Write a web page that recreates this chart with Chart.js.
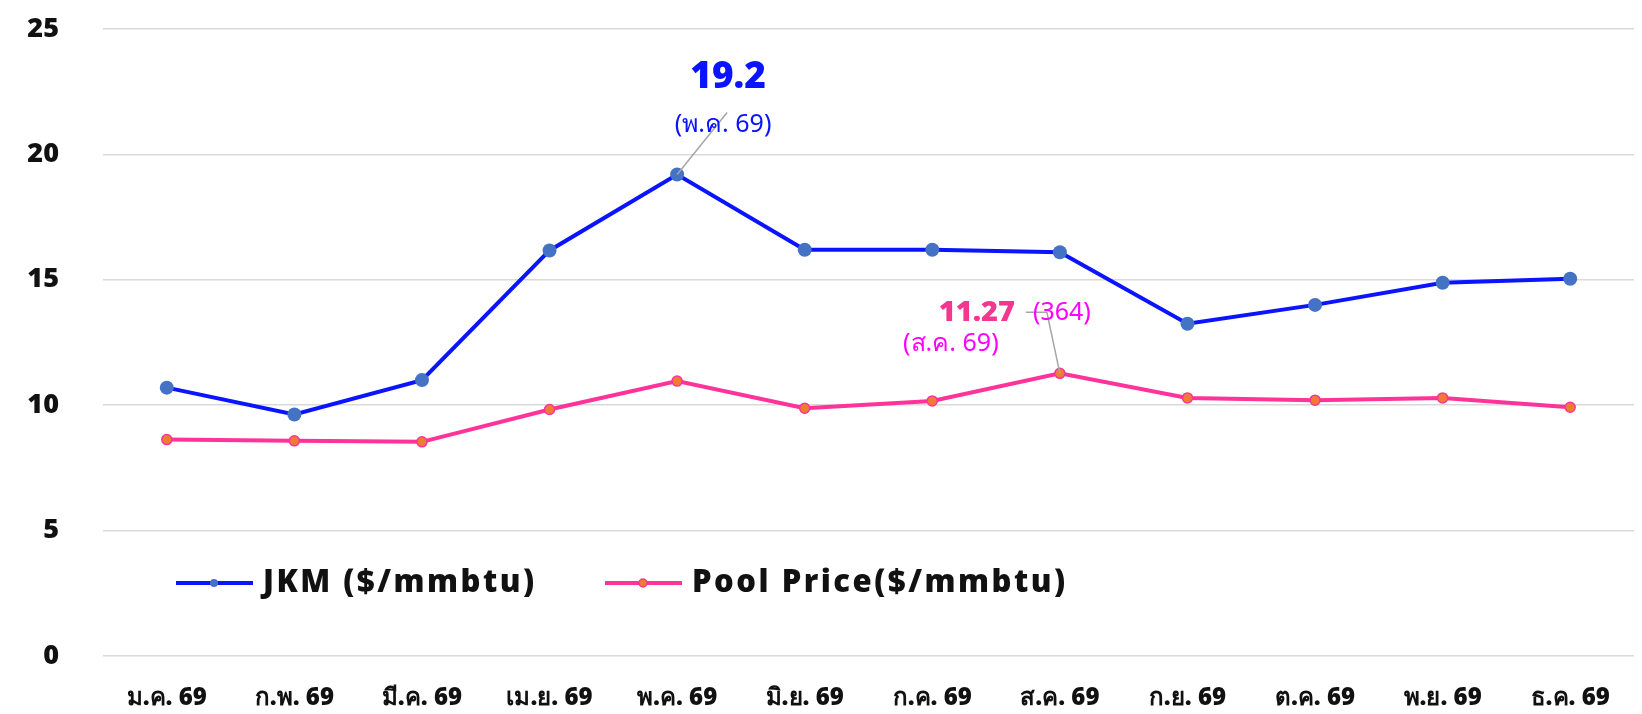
<!DOCTYPE html>
<html lang="th">
<head>
    <meta charset="UTF-8">
    <title>JKM vs Pool Price</title>
    <script src="https://cdn.jsdelivr.net/npm/chart.js"></script>
    <style>
        html, body { margin: 0; padding: 0; background: #fff; }
        #wrap { width: 1642px; height: 714px; }
    </style>
</head>
<body>
    <div id="wrap"><canvas id="priceChart" width="1642" height="714"></canvas></div>

    <script>
        // Data
        const months = ['ม.ค. 69', 'ก.พ. 69', 'มี.ค. 69', 'เม.ย. 69', 'พ.ค. 69', 'มิ.ย. 69',
                        'ก.ค. 69', 'ส.ค. 69', 'ก.ย. 69', 'ต.ค. 69', 'พ.ย. 69', 'ธ.ค. 69'];
        const jkmValues = [10.7, 9.63, 11.0, 16.17, 19.2, 16.2, 16.2, 16.1, 13.25, 14.0, 14.88, 15.04];
        const poolValues = [8.63, 8.58, 8.54, 9.83, 10.96, 9.88, 10.17, 11.27, 10.29, 10.2, 10.29, 9.92];
        const seriesNames = ['JKM ($/mmbtu)', 'Pool Price($/mmbtu)'];
        const yTicks = [0, 5, 10, 15, 20, 25];

        const FONT = "'Noto Sans', 'Open Sans', sans-serif";

        // callouts: which point, and the texts next to it
        const callouts = [
            { ds: 0, idx: 4, texts: [
                { t: '19.2', dx: 51, dy: -97, size: 37, weight: '900', color: '#0a14ff' },
                { t: '(พ.ค. 69)', dx: 46, dy: -50, size: 25, weight: 'normal', color: '#0a14ff' }
              ], path: [[0, 0], [50, -62]] },
            { ds: 1, idx: 7, texts: [
                { t: '11.27', dx: -83, dy: -61, size: 29, weight: '900', color: '#f4378e' },
                { t: '(364)', dx: 2, dy: -60, size: 25, weight: 'normal', color: '#ff00ff' },
                { t: '(ส.ค. 69)', dx: -109, dy: -29, size: 25, weight: 'normal', color: '#ff00ff' }
              ], path: [[0, 0], [-13, -61], [-34, -61]] }
        ];

        const calloutPlugin = {
            id: 'callouts',
            afterDatasetsDraw(chart) {
                const ctx = chart.ctx;
                callouts.forEach(c => {
                    const pt = chart.getDatasetMeta(c.ds).data[c.idx];
                    ctx.save();
                    ctx.strokeStyle = '#a6a6a6';
                    ctx.lineWidth = 1.5;
                    ctx.beginPath();
                    c.path.forEach((p, i) => {
                        if (i === 0) ctx.moveTo(pt.x + p[0], pt.y + p[1]);
                        else ctx.lineTo(pt.x + p[0], pt.y + p[1]);
                    });
                    ctx.stroke();
                    ctx.textAlign = 'center';
                    ctx.textBaseline = 'middle';
                    c.texts.forEach(tx => {
                        ctx.font = `${tx.weight} ${tx.size}px ${FONT}`;
                        ctx.fillStyle = tx.color;
                        ctx.fillText(tx.t, pt.x + tx.dx, pt.y + tx.dy);
                    });
                    ctx.restore();
                });
            }
        };

        // legend drawn inside the plot, bottom left
        const legendPlugin = {
            id: 'innerLegend',
            afterDraw(chart) {
                const ctx = chart.ctx;
                const y = 583;
                const starts = [176, 605];
                chart.data.datasets.forEach((ds, i) => {
                    const x0 = starts[i];
                    ctx.save();
                    ctx.strokeStyle = ds.borderColor;
                    ctx.lineWidth = 4;
                    ctx.beginPath();
                    ctx.moveTo(x0, y);
                    ctx.lineTo(x0 + 77, y);
                    ctx.stroke();
                    ctx.fillStyle = ds.pointBackgroundColor;
                    ctx.strokeStyle = ds.pointBorderColor;
                    ctx.lineWidth = ds.pointBorderWidth;
                    ctx.beginPath();
                    ctx.arc(x0 + 38, y, 4, 0, Math.PI * 2);
                    ctx.fill();
                    if (ds.pointBorderWidth) ctx.stroke();
                    ctx.font = `900 31px ${FONT}`;
                    ctx.letterSpacing = '2.5px';
                    ctx.fillStyle = '#111';
                    ctx.textAlign = 'left';
                    ctx.textBaseline = 'middle';
                    ctx.fillText(ds.label, x0 + 87, y);
                    ctx.restore();
                });
            }
        };

        new Chart(document.getElementById('priceChart'), {
            type: 'line',
            data: {
                labels: months,
                datasets: [
                    {
                        label: seriesNames[0],
                        data: jkmValues,
                        borderColor: '#0a14ff',
                        borderWidth: 4,
                        pointBackgroundColor: '#4472c4',
                        pointBorderColor: '#4472c4',
                        pointBorderWidth: 0,
                        pointRadius: 7,
                        tension: 0
                    },
                    {
                        label: seriesNames[1],
                        data: poolValues,
                        borderColor: '#ff3399',
                        borderWidth: 4,
                        pointBackgroundColor: '#ed7d31',
                        pointBorderColor: '#ff3399',
                        pointBorderWidth: 1.5,
                        pointRadius: 5,
                        tension: 0
                    }
                ]
            },
            options: {
                responsive: false,
                animation: false,
                layout: { padding: { top: 29, right: 8, left: 0, bottom: 0 } },
                plugins: {
                    legend: { display: false },
                    tooltip: { enabled: false }
                },
                scales: {
                    x: {
                        offset: true,
                        grid: { display: false, drawTicks: false },
                        border: { display: false },
                        ticks: {
                            padding: 28,
                            maxRotation: 0,
                            color: '#111',
                            font: { family: FONT, size: 24, weight: '900' }
                        },
                        afterFit: s => { s.height = 58; }
                    },
                    y: {
                        min: 0,
                        max: 25,
                        afterBuildTicks: s => { s.ticks = yTicks.map(v => ({ value: v })); },
                        grid: { color: '#d9d9d9', lineWidth: 1.5, drawTicks: false },
                        border: { display: false },
                        ticks: {
                            padding: 44,
                            color: '#111',
                            font: { family: FONT, size: 27, weight: '900' }
                        },
                        afterFit: s => {
                            s.width = 103;
                            s.paddingTop = 16;
                            s.paddingBottom = 16;
                        }
                    }
                }
            },
            plugins: [calloutPlugin, legendPlugin]
        });
    </script>
</body>
</html>
